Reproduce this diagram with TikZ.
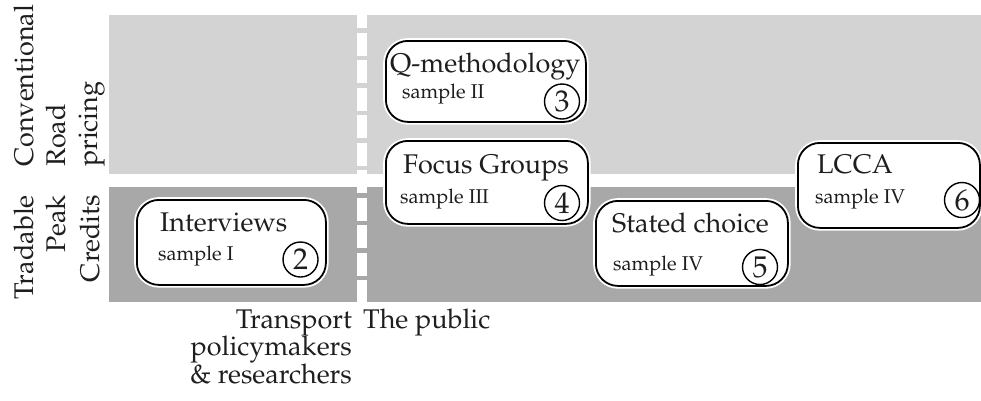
\documentclass[tikz,border=0pt]{standalone}
\usepackage[T1]{fontenc}
\usepackage{mathpazo}
\definecolor{bandlight}{RGB}{211,211,211}
\definecolor{banddark}{RGB}{168,168,168}
\definecolor{ink}{RGB}{30,30,30}
\tikzset{
  method/.style={draw=black, line width=1.8pt, fill=white, rounded corners=22pt,
    preaction={draw=white, line width=5.5pt}, inner sep=0pt, anchor=north west},
  title/.style={anchor=base west, inner sep=0pt, text=ink, font=\fontsize{27}{33}\selectfont},
  sampletxt/.style={anchor=base west, inner sep=0pt, text=ink, font=\fontsize{20}{24}\selectfont},
  num/.style={circle, draw=black, line width=1.4pt, minimum size=35pt, inner sep=0pt,
    text=ink, font=\fontsize{30}{34}\selectfont},
  sidelabel/.style={rotate=90, inner sep=0pt, text=ink, font=\fontsize{27}{33}\selectfont},
  foot/.style={inner sep=0pt, text=ink, font=\fontsize{27}{33}\selectfont}
}
\begin{document}
\begin{tikzpicture}[x=1pt, y=-1pt]
\useasboundingbox (0,0) rectangle (981,400);

% policy bands
\fill[bandlight] (109,15) rectangle (981,174);
\fill[banddark] (109,187) rectangle (981,302);

% split between stakeholder groups
\coordinate (divtop) at (362,15);
\coordinate (divbot) at (362,302);
\draw[white, line width=10pt, dash pattern=on 23pt off 4.5pt, dash phase=10pt] (divtop) -- (divbot);

% band labels
\node[sidelabel, anchor=base west] (conv) at (33,167) {Conventional};
\node[sidelabel, anchor=base west] (road) at (65,167) {Road};
\node[sidelabel, anchor=base west] (pric) at (97,167) {pricing};
\node[sidelabel, anchor=base east] (trad) at (33,195) {Tradable};
\node[sidelabel, anchor=base east] (peak) at (65,195) {Peak};
\node[sidelabel, anchor=base east] (cred) at (99,195) {Credits};

% stakeholder labels
\node[foot, anchor=base east] (tp1) at (352,328) {Transport};
\node[foot, anchor=base east] (tp2) at (352,355.5) {policymakers};
\node[foot, anchor=base east] (tp3) at (352,383) {\& researchers};
\node[foot, anchor=base west] (pub) at (363,328) {The public};

% Interviews
\node[method, minimum width=189pt, minimum height=85pt] (int) at (136,199) {};
\node[title] (intt) at (160,231) {Interviews};
\node[sampletxt] (ints) at (158,260) {sample I};
\node[num] (intn) at (300.5,259.5) {2};

% Q-methodology
\node[method, minimum width=200pt, minimum height=81pt] (qm) at (385,40) {};
\node[title] (qmt) at (390,72) {Q-methodology};
\node[sampletxt] (qms) at (402,98) {sample II};
\node[num] (qmn) at (562,101.5) {3};

% Focus groups
\node[method, minimum width=202pt, minimum height=83pt] (fg) at (385,140) {};
\node[title] (fgt) at (403,173) {Focus Groups};
\node[sampletxt] (fgs) at (400,203) {sample III};
\node[num] (fgn) at (562,203) {4};

% Stated choice
\node[method, minimum width=192pt, minimum height=85pt] (sc) at (595,200) {};
\node[title] (sct) at (612,232) {Stated choice};
\node[sampletxt] (scs) at (613,270) {sample IV};
\node[num] (scn) at (760,267) {5};

% LCCA
\node[method, minimum width=182pt, minimum height=85pt] (lc) at (797,142) {};
\node[title] (lct) at (817,173) {LCCA};
\node[sampletxt] (lcs) at (815,203) {sample IV};
\node[num] (lcn) at (962,200) {6};
\end{tikzpicture}
\end{document}
